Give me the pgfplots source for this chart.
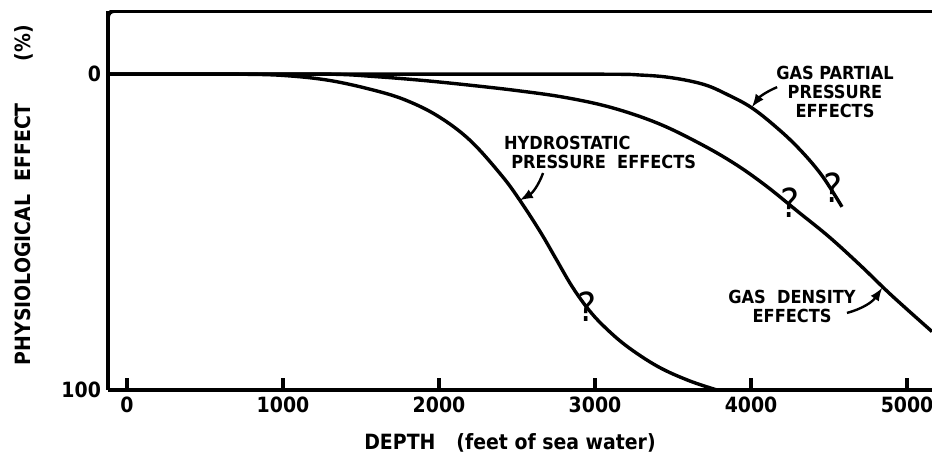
\documentclass[border=0pt]{standalone}
\usepackage{fontspec}
\setmainfont{DejaVu Sans Condensed}
\usepackage{pgfplots}
\pgfplotsset{compat=1.18}
\begin{document}
\begin{tikzpicture}
\begin{axis}[
  scale only axis, width=412pt, height=189.5pt,
  xmin=-121.8, xmax=5160, ymin=-20, ymax=100, y dir=reverse,
  axis x line*=bottom, axis y line*=left,
  axis line style={line width=2pt},
  xtick={0,1000,2000,3000,4000,5000},
  ytick={0,100},
  /pgf/number format/1000 sep={},
  /pgf/number format/assume math mode=true,
  tick align=inside, major tick length=6pt,
  x tick style={line width=1.6pt, black},
  y tick style={draw=none},
  tick label style={font=\bfseries\fontsize{10.5}{12}\selectfont},
  curve/.style={black, no marks, line width=1.7pt, smooth, tension=0.6},
]
% Hydrostatic pressure effects
\addplot[curve] coordinates {(-121.8,0) (400,0) (700,0) (1000,0.4) (1300,2) (1600,5.3) (1800,8.5) (2000,13.5) (2200,21) (2400,32) (2519,40) (2650,50) (2750,58.5) (2850,67) (2950,74) (3050,79.5) (3200,86) (3400,92.5) (3600,97) (3782,100)};
% Gas density effects
\addplot[curve] coordinates {(-121.8,0) (700,0) (1300,0) (1600,0.8) (1900,2) (2200,3.5) (2500,5.2) (2800,7.3) (3100,10.5) (3400,15.5) (3673,22) (3900,28.5) (4100,35.5) (4300,43.5) (4500,51.5) (4700,60.5) (4900,70) (5160,81.5)};
% Gas partial pressure effects
\addplot[curve] coordinates {(-121.8,0) (1500,0) (3000,0) (3300,0.3) (3500,1.2) (3700,3.3) (3850,6.5) (4000,10.5) (4150,16.3) (4300,23.2) (4450,31.8) (4583,42)};

\draw[line width=2pt, rounded corners=3pt] (axis cs:-121.8,100) -- (axis cs:-121.8,-20) -- (axis cs:5160,-20);

\node[font=\bfseries\fontsize{9}{9.5}\selectfont, align=center] at (axis cs:4538,5.7) {GAS PARTIAL\\PRESSURE\\EFFECTS};
\draw[line width=1.2pt, -latex] (axis cs:4167,4.1) to[bend right=15] (axis cs:4006,10.4);
\node[font=\bfseries\fontsize{9}{9.5}\selectfont, align=left, anchor=west] at (axis cs:2372,24.7) {HYDROSTATIC\\\hspace{0.4em}PRESSURE\ \ EFFECTS};
\draw[line width=1.2pt, -latex] (axis cs:2667,31.3) to[bend left=20] (axis cs:2519,39.9);
\node[font=\bfseries\fontsize{9}{9.5}\selectfont, align=center] at (axis cs:4263,73.4) {GAS\ \ DENSITY\\EFFECTS};
\draw[line width=1.2pt, -latex] (axis cs:4615,75.6) to[bend right=20] (axis cs:4840,67.7);

\node[font=\fontsize{20}{20}\selectfont] at (axis cs:2949,73.7) {?};
\node[font=\fontsize{20}{20}\selectfont] at (axis cs:4250,40.8) {?};
\node[font=\fontsize{20}{20}\selectfont] at (axis cs:4526,35.8) {?};
\end{axis}
\node[font=\bfseries\fontsize{10.5}{12}\selectfont] at ([shift={(201pt,-26.5pt)}]current axis.south west) {DEPTH\quad (feet of sea water)};
\node[rotate=90, font=\bfseries\fontsize{10.5}{12}\selectfont] at ([shift={(-42.25pt,97.5pt)}]current axis.south west) {PHYSIOLOGICAL\ \ EFFECT\qquad(\%)};
\pgfresetboundingbox
\path[use as bounding box] ([shift={(-54pt,-40.5pt)}]current axis.south west) rectangle ([shift={(0pt,5.5pt)}]current axis.north east);
\end{tikzpicture}
\end{document}
